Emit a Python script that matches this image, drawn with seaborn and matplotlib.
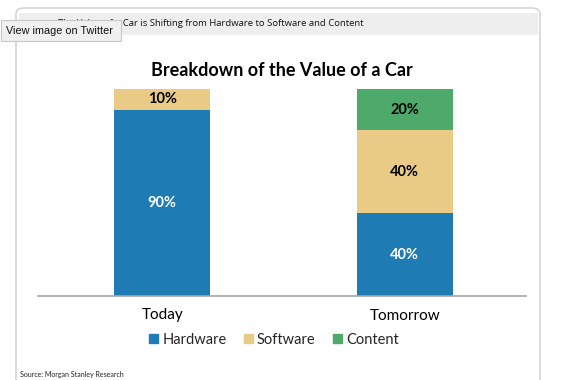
import numpy as np
import pandas as pd
import seaborn as sns
from matplotlib import pyplot as plt
from matplotlib.patches import FancyBboxPatch, Rectangle, Patch

categories = ["Today", "Tomorrow"]
hardware = [0.90, 0.40]
software = [0.10, 0.40]
content = [0.00, 0.20]
segments = ["Hardware", "Software", "Content"]
colors = {"Hardware": "#1f7bb4", "Software": "#e9cb86", "Content": "#4daa6a"}
label_colors = {"Hardware": "white", "Software": "black", "Content": "black"}

W, H = 580, 380


def fx(x):
    return x / W


def fy(y):
    return 1 - y / H


sns.set_theme(style="white")
plt.rcParams["font.family"] = ["Lato", "DejaVu Sans"]

fig = plt.figure(figsize=(5.8, 3.8), dpi=100)
fig.patch.set_facecolor("white")

# card frame and header band (behind everything)
fig.add_artist(FancyBboxPatch((fx(16), fy(400)), fx(524), fy(8) - fy(400),
                              boxstyle="round,pad=0,rounding_size=0.015",
                              transform=fig.transFigure, fc="white", ec="#d6d6d6",
                              lw=1.2, zorder=-2))
fig.add_artist(Rectangle((fx(19), fy(35)), fx(519), fy(13) - fy(35),
                         transform=fig.transFigure, fc="#eeeeee", ec="none", zorder=-1))
fig.text(fx(363), fy(24), "The Value of a Car is Shifting from Hardware to Software and Content",
         ha="right", va="center", fontsize=6.8, family=["Open Sans", "DejaVu Sans"],
         color="#111111", zorder=1)

df = pd.DataFrame({"cat": categories, "Hardware": hardware,
                   "Software": software, "Content": content})
df["top_hw"] = df["Hardware"]
df["top_sw"] = df["Hardware"] + df["Software"]
df["top_ct"] = df["top_sw"] + df["Content"]

ax = fig.add_axes([fx(38), fy(296), fx(526) - fx(38), fy(89) - fy(296)])
for col, seg in [("top_ct", "Content"), ("top_sw", "Software"), ("top_hw", "Hardware")]:
    sns.barplot(data=df, x="cat", y=col, color=colors[seg], saturation=1,
                width=0.397, ax=ax, edgecolor="none")

for i, cat in enumerate(categories):
    base = 0
    for seg in segments:
        v = df.loc[i, seg]
        if v > 0:
            ax.text(i, base + v / 2, f"{v:.0%}", ha="center", va="center",
                    fontsize=10.5, fontweight="bold", color=label_colors[seg])
        base += v

ax.set_xlim(-0.512, 1.50)
ax.set_ylim(0, 1)
ax.set_yticks([])
ax.set_xlabel("")
ax.set_ylabel("")
ax.tick_params(axis="x", labelsize=11, pad=9, length=0, colors="black")
for s in ["top", "right", "left"]:
    ax.spines[s].set_visible(False)
ax.spines["bottom"].set_color("#a6a6a6")
ax.spines["bottom"].set_linewidth(1.2)
ax.set_facecolor("none")

fig.text(fx(282), fy(70), "Breakdown of the Value of a Car", ha="center", va="center",
         fontsize=13, fontweight="bold", color="black")

handles = [Patch(color=colors[s], label=s) for s in segments]
fig.legend(handles=handles, loc="center", bbox_to_anchor=(fx(274), fy(340)), ncol=3,
           frameon=False, fontsize=10.5, handlelength=0.6, handleheight=0.6,
           handletextpad=0.3, columnspacing=1.2)

fig.text(fx(20), fy(374), "Source: Morgan Stanley Research", ha="left", va="center",
         fontsize=5, color="#222222")

# tooltip overlay
fig.add_artist(Rectangle((fx(0.5), fy(41)), fx(120), fy(20) - fy(41),
                         transform=fig.transFigure, fc="#f0f0f0", ec="#c8c8c8",
                         lw=0.8, zorder=5))
fig.text(fx(6), fy(30.5), "View image on Twitter", ha="left", va="center",
         fontsize=7.8, family=["Liberation Sans", "DejaVu Sans"], color="#111111", zorder=6)

fig.savefig("out.png", dpi=100)
